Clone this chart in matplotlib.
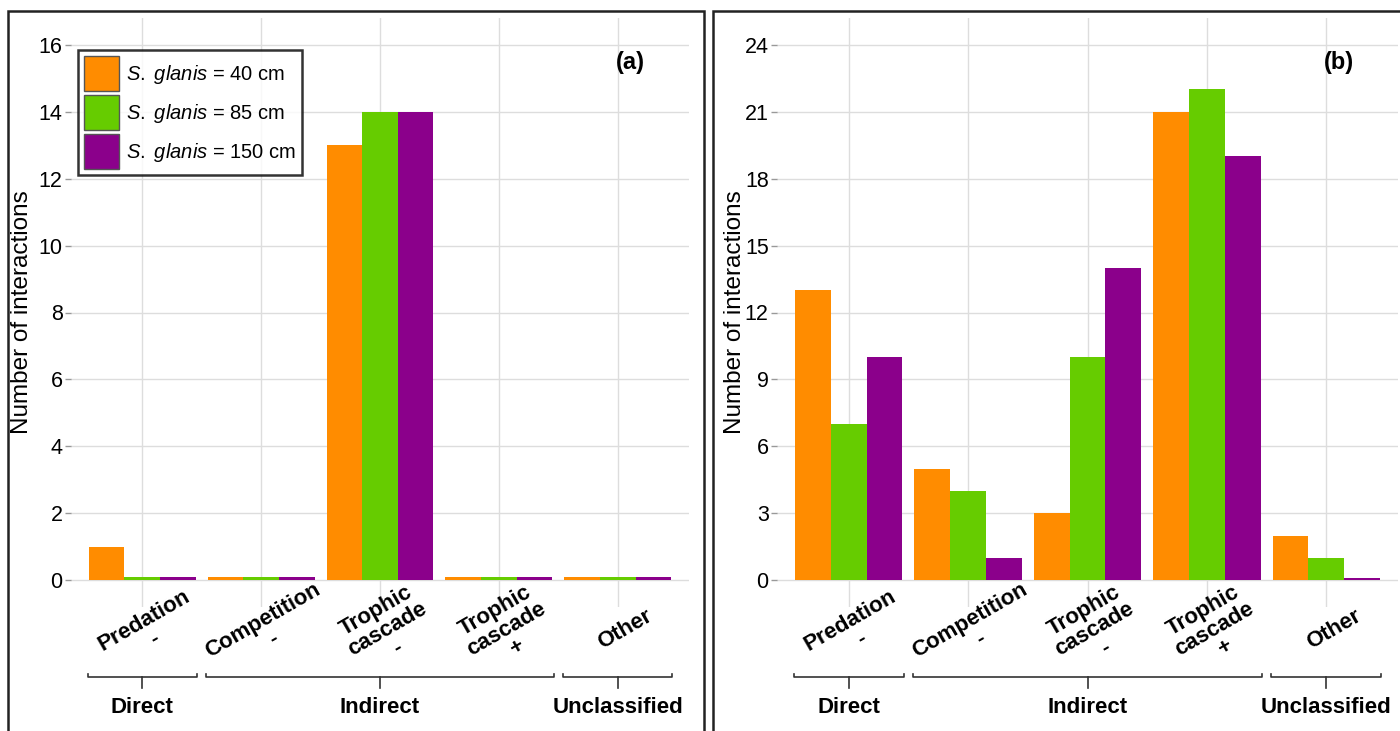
import numpy as np
import matplotlib
matplotlib.use('Agg')
import matplotlib.pyplot as plt
from matplotlib.patches import Rectangle, Patch
import matplotlib.transforms as mtransforms

plt.rcParams['font.family'] = ['Liberation Sans', 'DejaVu Sans']
plt.rcParams['mathtext.fontset'] = 'custom'
plt.rcParams['mathtext.it'] = 'Liberation Sans:italic'
plt.rcParams['mathtext.rm'] = 'Liberation Sans'

# data
categories = ['Predation\n-', 'Competition\n-', 'Trophic\ncascade\n-', 'Trophic\ncascade\n+', 'Other']
groups = ['Direct', 'Indirect', 'Unclassified']
group_span = [(0, 0), (1, 3), (4, 4)]
sizes = ['40', '85', '150']

panel_a_40 = [1, 0, 13, 0, 0]
panel_a_85 = [0, 0, 14, 0, 0]
panel_a_150 = [0, 0, 14, 0, 0]

panel_b_40 = [13, 5, 3, 21, 2]
panel_b_85 = [7, 4, 10, 22, 1]
panel_b_150 = [10, 1, 14, 19, 0]

colors = ['#FF8C00', '#66CC00', '#8B008B']
zero_floor = 0.1  # zero counts are shown as thin bars, like the original

fig = plt.figure(figsize=(14, 7.31), dpi=100)

# outer boxes around each panel
for x0, w in [(8, 696), (713, 690)]:
    fig.patches.append(Rectangle((x0 / 1400, -0.02), w / 1400, 1 - 11 / 731 + 0.02,
                                 transform=fig.transFigure, fill=False,
                                 edgecolor='#222222', linewidth=1.8))

ax_a = fig.add_axes([71 / 1400, 1 - 607 / 731, 618 / 1400, 589 / 731])
ax_b = fig.add_axes([777 / 1400, 1 - 607 / 731, 621 / 1400, 589 / 731])


def draw_panel(ax, series, ymax, ystep, tag, ylab_x):
    x = np.arange(len(categories))
    w = 0.3
    for i, vals in enumerate(series):
        h = np.maximum(np.array(vals, dtype=float), zero_floor)
        ax.bar(x + (i - 1) * w, h, width=w, color=colors[i], linewidth=0, zorder=3)

    pad = ymax * 0.05
    ax.set_ylim(-pad, ymax + pad)
    ax.set_xlim(-0.6, len(categories) - 0.4)
    ax.set_yticks(np.arange(0, ymax + 1, ystep))
    ax.set_xticks(x)
    ax.set_xticklabels([])
    ax.grid(True, color='#DDDDDD', linewidth=1.0, zorder=0)
    for s in ax.spines.values():
        s.set_visible(False)
    ax.tick_params(axis='y', length=4, width=1, color='#999999', labelsize=15.5, pad=2)
    ax.tick_params(axis='x', length=0)
    ax.set_ylabel('Number of interactions', fontsize=17.5)
    ax.yaxis.set_label_coords(ylab_x, 0.5)

    trans = mtransforms.blended_transform_factory(ax.transData, ax.transAxes)
    for xi, lab in zip(x, categories):
        ax.text(xi + 0.06, -0.038, lab, transform=trans, rotation=30,
                rotation_mode='anchor', ha='center', va='center',
                multialignment='center', fontsize=16, fontweight='bold',
                linespacing=1.0, clip_on=False)

    for name, (a, b) in zip(groups, group_span):
        x0, x1 = a - 0.46, b + 0.46
        xm = (a + b) / 2
        ax.plot([x0, x0, x1, x1], [-0.113, -0.119, -0.119, -0.113], transform=trans,
                color='#333333', linewidth=1.2, clip_on=False)
        ax.plot([xm, xm], [-0.119, -0.1375], transform=trans,
                color='#333333', linewidth=1.2, clip_on=False)
        ax.text(xm, -0.171, name, transform=trans, ha='center', va='center',
                fontsize=16, fontweight='bold', clip_on=False)

    ax.text(0.905, 0.925, tag, transform=ax.transAxes, ha='center', va='center',
            fontsize=17, fontweight='bold')


draw_panel(ax_a, [panel_a_40, panel_a_85, panel_a_150], 16, 2, '(a)', -0.062)
draw_panel(ax_b, [panel_b_40, panel_b_85, panel_b_150], 24, 3, '(b)', -0.050)

handles = [Patch(facecolor=c, edgecolor='#555555', linewidth=1) for c in colors]
labels = [r'$\mathit{S.}$ $\mathit{glanis}$ = ' + s + ' cm' for s in sizes]
leg = ax_a.legend(handles, labels, loc='upper left', bbox_to_anchor=(0.011, 0.946),
                  borderaxespad=0, fontsize=14.5, frameon=True, fancybox=False,
                  edgecolor='black', handlelength=1.75, handleheight=2.3,
                  handletextpad=0.35, labelspacing=0.2, borderpad=0.3)
leg.get_frame().set_linewidth(1.8)

fig.savefig('out.png', dpi=100)
